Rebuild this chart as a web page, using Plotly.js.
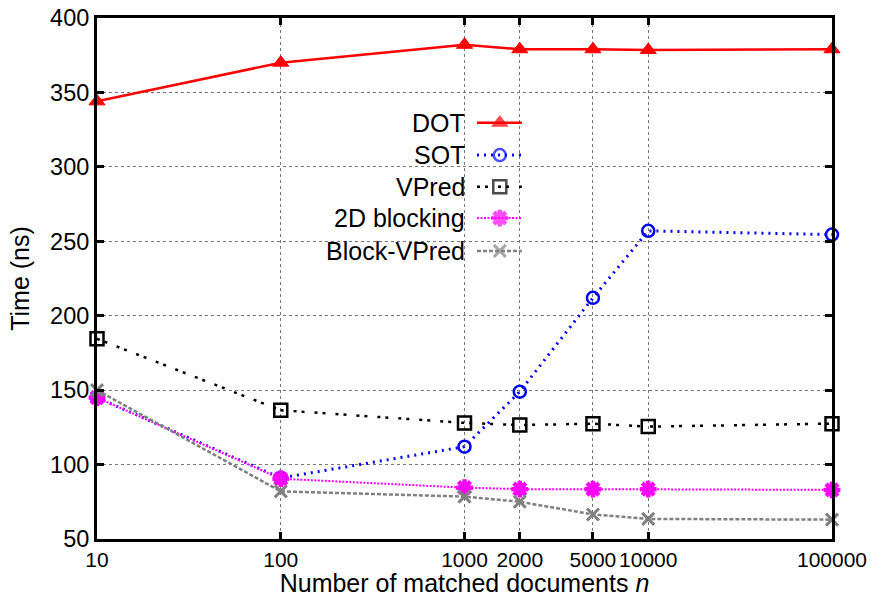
<!DOCTYPE html>
<html><head><meta charset="utf-8">
<script src="https://cdn.plot.ly/plotly-3.0.1.min.js"></script>
<style>html,body{margin:0;padding:0;background:#fff}#chart{width:870px;height:597px}</style>
</head><body><div id="chart"></div>
<script>
const xValues = [10, 100, 1000, 2000, 5000, 10000, 100000];
const tickVals = [10, 100, 1000, 2000, 5000, 10000, 100000];
const tickText = ["10", "100", "1000", "2000", "5000", "10000", "100000"];
const seriesNames = ["DOT", "SOT", "VPred", "2D blocking", "Block-VPred"];
const dotValues = [344, 370, 382, 379, 379, 378.5, 379];
const sotValues = [145, 91, 112, 149, 212, 257, 254.5];
const vpredValues = [184.5, 136.5, 128, 126.5, 127.5, 125.5, 127.5];
const blocking2dValues = [145, 90.5, 84.5, 83.5, 83.5, 83.5, 83];
const blockVpredValues = [150, 82, 78.5, 75, 66.5, 63.5, 63];

const styles = [
  {color: "#ff0000", dash: "solid", width: 2.5, symbol: "triangle-up", size: 14, mlw: 1},
  {color: "#0000ff", dash: "2px,5px", width: 3, symbol: "circle-open", size: 12, mlw: 2.5},
  {color: "#000000", dash: "3px,5px,3px,10px", width: 2.5, symbol: "square-open", size: 13, mlw: 2.5},
  {color: "#ff00ff", dash: "2px,1.5px", width: 2, symbol: "asterisk-open", size: 14, mlw: 4.5},
  {color: "#808080", dash: "4px,2px", width: 2.5, symbol: "x-thin-open", size: 12, mlw: 3}
];
const allValues = [dotValues, sotValues, vpredValues, blocking2dValues, blockVpredValues];

const traces = allValues.map((vals, i) => ({
  x: xValues, y: vals, name: seriesNames[i], type: "scatter", mode: "lines+markers",
  line: {color: styles[i].color, dash: styles[i].dash, width: styles[i].width},
  marker: {symbol: styles[i].symbol, size: styles[i].size, color: styles[i].color,
           line: {color: styles[i].color, width: styles[i].mlw}},
  cliponaxis: false, showlegend: false
}));

// custom legend (text left of sample, gnuplot style)
const legX0 = 0.517, legXm = 0.548, legX1 = 0.578, legTextX = 0.503;
const legY = [0.799, 0.737, 0.676, 0.616, 0.553];
const annotations = [];
seriesNames.forEach((n, i) => {
  traces.push({
    x: [legX0, legXm, legX1], y: [legY[i], legY[i], legY[i]], xaxis: "x2", yaxis: "y2",
    type: "scatter", mode: "lines+markers", showlegend: false, hoverinfo: "skip",
    line: {color: styles[i].color, dash: styles[i].dash, width: styles[i].width},
    marker: {symbol: styles[i].symbol, size: [0, styles[i].size, 0], color: styles[i].color,
             line: {color: styles[i].color, width: [0, styles[i].mlw, 0]}}
  });
  annotations.push({xref: "paper", yref: "paper", x: legTextX, y: legY[i], text: n,
    showarrow: false, xanchor: "right", yanchor: "middle",
    font: {family: "Liberation Sans, Arial, sans-serif", size: 25, color: "#000"}});
});

const layout = {
  width: 870, height: 597,
  margin: {l: 97, r: 38, t: 18, b: 58},
  paper_bgcolor: "#fff", plot_bgcolor: "#fff",
  font: {family: "Liberation Sans, Arial, sans-serif", size: 22, color: "#000"},
  showlegend: false,
  xaxis: {type: "log", range: [1, 5], tickvals: tickVals, ticktext: tickText, tickangle: 0,
    showline: true, linecolor: "#000", linewidth: 3, mirror: "ticks",
    ticks: "inside", ticklen: 7, tickwidth: 3, tickcolor: "#000",
    showgrid: true, gridcolor: "#777", griddash: "dot", gridwidth: 1, zeroline: false,
    tickfont: {size: 21},
    title: {text: "Number of matched documents <i>n</i>", font: {size: 25}, standoff: 4}},
  yaxis: {range: [50, 400], dtick: 50, tick0: 0,
    showline: true, linecolor: "#000", linewidth: 3, mirror: "ticks",
    ticks: "inside", ticklen: 7, tickwidth: 3, tickcolor: "#000",
    showgrid: true, gridcolor: "#777", griddash: "dot", gridwidth: 1, zeroline: false,
    tickfont: {size: 23.5},
    title: {text: "Time (ns)", font: {size: 25}, standoff: 14}},
  xaxis2: {overlaying: "x", range: [0, 1], visible: false, fixedrange: true},
  yaxis2: {overlaying: "y", range: [0, 1], visible: false, fixedrange: true},
  annotations: annotations
};
Plotly.newPlot("chart", traces, layout, {displayModeBar: false, staticPlot: true});
</script></body></html>
